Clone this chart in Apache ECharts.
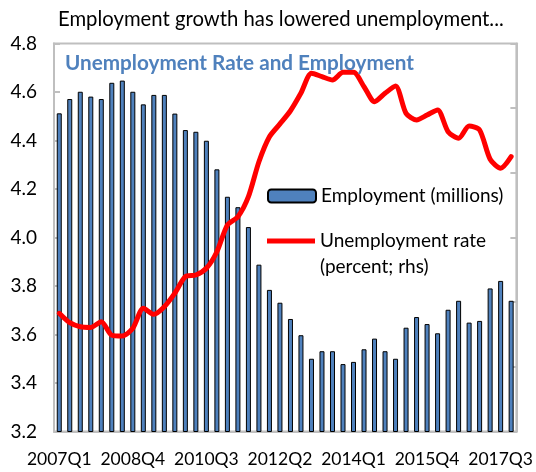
<!DOCTYPE html>
<html>
<head>
<meta charset="utf-8">
<script src="https://cdn.jsdelivr.net/npm/echarts@6/dist/echarts.min.js"></script>
<style>
html,body{margin:0;padding:0;background:#fff;}
#chart{width:536px;height:472px;}
</style>
</head>
<body>
<div id="chart"></div>
<script>
const quarters = [
  '2007Q1','2007Q2','2007Q3','2007Q4',
  '2008Q1','2008Q2','2008Q3','2008Q4',
  '2009Q1','2009Q2','2009Q3','2009Q4',
  '2010Q1','2010Q2','2010Q3','2010Q4',
  '2011Q1','2011Q2','2011Q3','2011Q4',
  '2012Q1','2012Q2','2012Q3','2012Q4',
  '2013Q1','2013Q2','2013Q3','2013Q4',
  '2014Q1','2014Q2','2014Q3','2014Q4',
  '2015Q1','2015Q2','2015Q3','2015Q4',
  '2016Q1','2016Q2','2016Q3','2016Q4',
  '2017Q1','2017Q2','2017Q3','2017Q4'
];
const employment = [
  4.512,4.571,4.601,4.581,4.571,4.638,4.647,4.601,4.549,4.588,4.588,4.511,
  4.443,4.436,4.399,4.281,4.168,4.125,4.043,3.888,3.784,3.731,3.664,3.597,
  3.500,3.531,3.531,3.478,3.487,3.539,3.583,3.531,3.500,3.628,3.672,3.643,
  3.605,3.702,3.739,3.649,3.656,3.790,3.821,3.739
];
const unemploymentRate = [
  9.14,8.41,8.10,8.05,8.49,7.44,7.38,7.98,9.53,9.06,9.65,10.70,
  11.97,12.10,12.62,13.90,15.97,16.61,18.16,20.86,22.79,23.78,24.80,26.17,
  27.70,27.44,27.18,27.77,27.77,26.66,25.50,26.15,26.71,24.60,24.09,24.47,
  24.86,23.18,22.67,23.62,23.31,21.05,20.35,21.25
];
const leftTicks = {min: 3.2, max: 4.8, interval: 0.2};
const rightTicks = {min: 0, max: 30, interval: 5};

const FONT = 'Lato';
const chart = echarts.init(document.getElementById('chart'), null, {renderer: 'canvas'});
chart.setOption({
  animation: false,
  backgroundColor: '#fff',
  textStyle: {fontFamily: FONT},
  title: [
    {text: 'Employment growth has lowered unemployment...', left: 53, top: 4,
     textStyle: {fontFamily: FONT, fontSize: 20.3, fontWeight: 'normal', color: '#000'}},
    {text: 'Unemployment Rate and Employment', left: 60, top: 48,
     textStyle: {fontFamily: FONT, fontSize: 20.7, fontWeight: 'bold', color: '#4f81bd'}}
  ],
  legend: [
    {data: ['Employment (millions)'], orient: 'vertical', left: 267, top: 186, padding: 0,
     itemWidth: 48, itemHeight: 13,
     textStyle: {fontFamily: FONT, fontSize: 19, color: '#000', lineHeight: 20}},
    {data: [{name: 'Unemployment rate', icon: 'rect', itemStyle: {color: '#ff0000'}}],
     orient: 'vertical', left: 267, top: 202, padding: 0,
     itemWidth: 48, itemHeight: 5,
     formatter: () => '\nUnemployment rate\n(percent; rhs)',
     textStyle: {fontFamily: FONT, fontSize: 19, color: '#000', lineHeight: 26}}
  ],
  grid: {left: 54, right: 18, top: 43.5, bottom: 40.5, show: true,
         borderColor: '#bfbfbf', borderWidth: 2, backgroundColor: 'transparent'},
  xAxis: {
    type: 'category', data: quarters, boundaryGap: true,
    axisLine: {show: true, lineStyle: {color: '#bfbfbf', width: 2}},
    axisTick: {show: false},
    axisLabel: {interval: 6, color: '#000', fontFamily: FONT, fontSize: 17.5, margin: 19}
  },
  yAxis: [
    {type: 'value', min: leftTicks.min, max: leftTicks.max, interval: leftTicks.interval,
     axisLine: {show: true, lineStyle: {color: '#bfbfbf', width: 2}},
     axisTick: {show: true, inside: true, length: 6, lineStyle: {color: '#bfbfbf', width: 2}},
     splitLine: {show: false},
     axisLabel: {color: '#000', fontFamily: FONT, fontSize: 19, margin: 17,
                 formatter: v => v.toFixed(1)}},
    {type: 'value', min: rightTicks.min, max: rightTicks.max, interval: rightTicks.interval,
     position: 'right',
     axisLine: {show: true, lineStyle: {color: '#bfbfbf', width: 2}},
     axisTick: {show: true, inside: true, length: 6, lineStyle: {color: '#bfbfbf', width: 2}},
     splitLine: {show: false},
     axisLabel: {show: false}}
  ],
  series: [
    {name: 'Employment (millions)', type: 'bar', data: employment, yAxisIndex: 0,
     barWidth: 5,
     itemStyle: {color: '#4f81bd', borderColor: '#000', borderWidth: 1}},
    {name: 'Unemployment rate', type: 'line', data: unemploymentRate, yAxisIndex: 1,
     smooth: 0.25, symbol: 'none',
     lineStyle: {color: '#ff0000', width: 5, cap: 'round', join: 'round'},
     itemStyle: {color: '#ff0000'}}
  ]
});
</script>
</body>
</html>
